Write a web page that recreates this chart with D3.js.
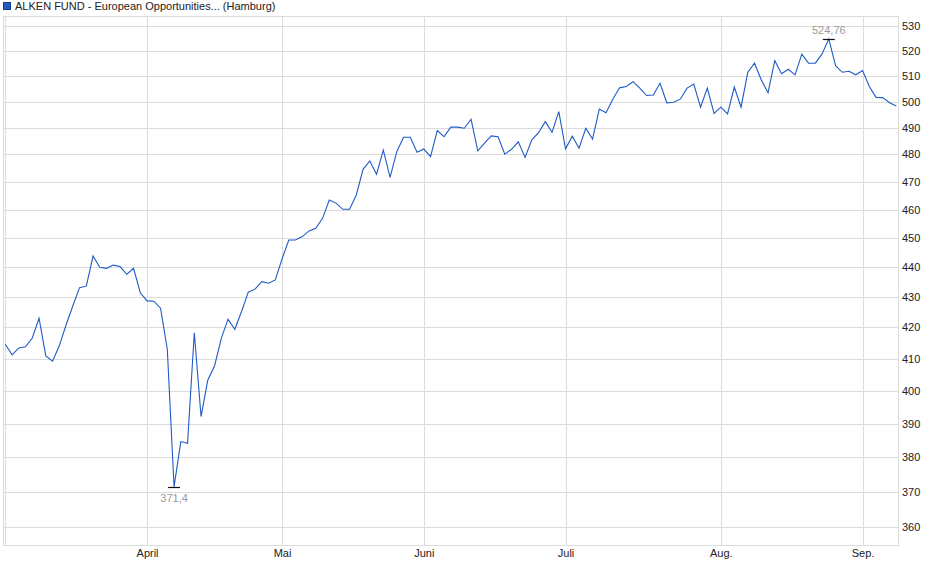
<!DOCTYPE html>
<html>
<head>
<meta charset="utf-8">
<script src="https://cdn.jsdelivr.net/npm/d3@7"></script>
<style>
  html, body { margin: 0; padding: 0; background: #fff; }
  svg { display: block; font-family: "Liberation Sans", Arial, sans-serif; }
</style>
</head>
<body>
<svg id="chart" width="940" height="579"></svg>
<script>
// ---- data (one value per trading day, 3 Mar – 8 Sep) ----
const seriesName = "ALKEN FUND - European Opportunities... (Hamburg)";
const prices = [
  414.6, 411.2, 413.4, 413.8, 416.6, 423.0, 410.9, 409.2, 414.1, 420.8, 427.0,
  433.1, 433.6, 443.8, 440.0, 439.6, 440.7, 440.2, 437.6, 439.6, 431.4,
  428.7, 428.6, 426.3, 413.0, 371.4, 384.6, 384.1, 418.3, 392.1, 403.3,
  407.7, 416.5, 422.7, 419.4, 425.2, 431.6, 432.6, 435.1, 434.6, 435.7,
  442.8, 449.3, 449.3, 450.5, 452.5, 453.4, 456.9, 463.4, 462.3, 460.1,
  460.1, 465.2, 474.5, 477.6, 472.7, 481.6, 471.6, 481.0, 486.4, 486.4,
  480.8, 482.0, 479.2, 488.9, 486.6, 490.2, 490.2, 489.8, 493.2, 481.3,
  484.2, 486.9, 486.6, 480.1, 481.9, 484.7, 478.9, 485.4, 488.1, 492.3,
  488.3, 496.1, 482.1, 486.8, 482.3, 489.8, 485.7, 497.1, 495.7, 500.9,
  505.3, 505.8, 507.7, 505.2, 502.3, 502.5, 507.1, 499.5, 499.7, 500.9,
  505.2, 506.8, 497.8, 505.2, 495.4, 497.8, 495.2, 505.6, 497.8, 511.4,
  515.0, 508.4, 503.4, 516.0, 510.8, 512.6, 510.4, 518.6, 515.0, 515.0,
  518.7, 524.76, 514.0, 511.4, 511.8, 510.4, 512.1, 505.8, 501.6, 501.5,
  499.5, 498.3
];
// month boundaries (trading-day index of first day of month)
const monthStartIndex = [0, 21, 41, 62, 83, 106, 127];
const monthLabels     = ["", "April", "Mai", "Juni", "Juli", "Aug.", "Sep."];
const yTicks = [360, 370, 380, 390, 400, 410, 420, 430, 440, 450, 460, 470, 480, 490, 500, 510, 520, 530];
const yDomain = [355.1, 534.1];
const maxLabel = "524,76";
const minLabel = "371,4";

// ---- layout ----
const plot = { left: 3, right: 898, top: 16, bottom: 545 };
const svg = d3.select("#chart");

const x = d3.scaleLinear().domain([0, prices.length - 1]).range([5.3, 896.3]);
const y = d3.scaleLog().domain(yDomain).range([plot.bottom, plot.top]);

const gridColor = "#dcdcdc";
const lineColor = "#1f5bc6";

// horizontal grid
svg.append("g").selectAll("line").data(yTicks).join("line")
  .attr("x1", plot.left).attr("x2", plot.right)
  .attr("y1", d => Math.round(y(d)) + 0.5).attr("y2", d => Math.round(y(d)) + 0.5)
  .attr("stroke", gridColor).attr("stroke-width", 1);

// vertical grid (month starts)
svg.append("g").selectAll("line").data(monthStartIndex).join("line")
  .attr("x1", d => Math.round(x(d)) + 0.5).attr("x2", d => Math.round(x(d)) + 0.5)
  .attr("y1", plot.top).attr("y2", plot.bottom)
  .attr("stroke", gridColor).attr("stroke-width", 1);

// frame
svg.append("rect")
  .attr("x", plot.left + 0.5).attr("y", plot.top + 0.5)
  .attr("width", plot.right - plot.left).attr("height", plot.bottom - plot.top)
  .attr("fill", "none").attr("stroke", gridColor);

// y axis labels (right)
const yAxis = d3.axisRight(y).tickValues(yTicks).tickSize(0).tickPadding(4)
  .tickFormat(d3.format("d"));
const yg = svg.append("g").attr("transform", `translate(${plot.right},0)`).call(yAxis);
yg.select(".domain").remove();
yg.selectAll("text").attr("font-size", 11).attr("fill", "#222")
  .attr("font-family", "'Liberation Sans', Arial, sans-serif");

// x axis labels
const xAxis = d3.axisBottom(x).tickValues(monthStartIndex.slice(1)).tickSize(0).tickPadding(4)
  .tickFormat((d, i) => monthLabels[i + 1]);
const xg = svg.append("g").attr("transform", `translate(0,${plot.bottom})`).call(xAxis);
xg.select(".domain").remove();
xg.selectAll("text").attr("font-size", 11).attr("fill", "#222")
  .attr("font-family", "'Liberation Sans', Arial, sans-serif");

// price line
const line = d3.line().x((d, i) => x(i)).y(d => y(d));
svg.append("path").datum(prices)
  .attr("d", line).attr("fill", "none")
  .attr("stroke", lineColor).attr("stroke-width", 1.1)
  .attr("stroke-linejoin", "miter");

// min / max markers
const maxI = d3.maxIndex(prices), minI = d3.minIndex(prices);
function marker(i, label, above) {
  const cx = x(i), cy = y(prices[i]);
  svg.append("line")
    .attr("x1", cx - 6).attr("x2", cx + 6)
    .attr("y1", Math.round(cy) + 0.5).attr("y2", Math.round(cy) + 0.5)
    .attr("stroke", "#111").attr("stroke-width", 1.2);
  svg.append("text")
    .attr("x", cx).attr("y", above ? cy - 5 : cy + 15)
    .attr("text-anchor", "middle").attr("font-size", 11)
    .attr("fill", "#9a9a9a").text(label);
}
marker(maxI, maxLabel, true);
marker(minI, minLabel, false);

// legend
svg.append("rect").attr("x", 3.5).attr("y", 2.5).attr("width", 7).attr("height", 7)
  .attr("fill", lineColor).attr("stroke", "#1a3c80").attr("stroke-width", 1);
svg.append("text").attr("x", 15).attr("y", 10).attr("font-size", 11)
  .attr("fill", "#222").text(seriesName);
</script>
</body>
</html>
